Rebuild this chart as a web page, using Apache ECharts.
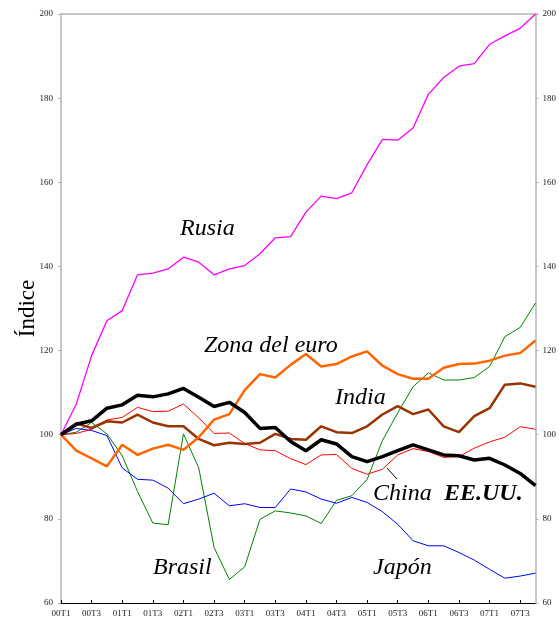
<!DOCTYPE html>
<html>
<head>
<meta charset="utf-8">
<script src="https://cdn.jsdelivr.net/npm/echarts@6/dist/echarts.min.js"></script>
<style>
  html, body { margin: 0; padding: 0; background: #fff; }
  #main { width: 559px; height: 619px; }
</style>
</head>
<body>
<div id="main"></div>
<script>
// trimestres 2000T1 - 2007T4
var quarters = [];
for (var y = 0; y <= 7; y++) {
    for (var q = 1; q <= 4; q++) {
        quarters.push('0' + y + 'T' + q);
    }
}

var rusia = [100, 107.3, 118.8, 127.1, 129.5, 138.0, 138.4, 139.4, 142.2, 141.0, 138.0, 139.4, 140.2, 143.0, 146.8, 147.1,
             152.9, 156.7, 156.1, 157.5, 164.2, 170.2, 170.0, 172.9, 180.9, 184.9, 187.6, 188.2, 192.8, 194.8, 196.6, 200.0];
var zonaEuro = [100, 96.2, 94.4, 92.5, 97.6, 95.2, 96.7, 97.6, 96.4, 99.4, 103.6, 104.9, 110.6, 114.4, 113.6, 116.6,
                119.2, 116.2, 116.8, 118.6, 119.8, 116.4, 114.4, 113.3, 113.3, 115.9, 116.8, 116.9, 117.6, 118.8, 119.4, 122.4];
var eeuu = [100, 102.5, 103.3, 106.3, 107.1, 109.4, 109.0, 109.7, 111.0, 108.9, 106.7, 107.7, 105.3, 101.5, 101.7, 98.4,
            96.2, 98.8, 97.8, 94.8, 93.6, 94.8, 96.2, 97.6, 96.4, 95.2, 95.0, 94.0, 94.4, 92.8, 90.8, 87.9];
var china = [100, 100.3, 101.3, 103.5, 104.1, 106.5, 105.5, 105.6, 107.3, 104.0, 100.3, 100.4, 97.9, 96.4, 96.2, 94.3,
             92.9, 95.2, 95.3, 92.0, 90.6, 91.8, 95.2, 96.7, 96.0, 94.6, 94.8, 96.8, 98.3, 99.4, 101.9, 101.3];
var india = [100, 102.7, 101.6, 103.2, 102.9, 104.8, 102.9, 102.0, 102.0, 99.0, 97.5, 98.1, 97.8, 98.1, 100.2, 99.0,
             98.8, 102.0, 100.6, 100.4, 102.0, 104.8, 106.8, 104.9, 106.0, 102.0, 100.6, 104.4, 106.3, 111.9, 112.2, 111.4];
var japon = [100, 101.5, 101.0, 99.8, 92.1, 89.4, 89.2, 87.3, 83.6, 84.7, 86.1, 83.1, 83.6, 82.7, 82.7, 87.1,
             86.4, 84.7, 83.7, 85.1, 83.9, 81.7, 78.7, 74.8, 73.6, 73.6, 72.0, 70.2, 68.0, 65.9, 66.4, 67.1];
var brasil = [100, 100.6, 102.9, 100.2, 95.0, 86.5, 79.0, 78.6, 100.2, 92.1, 73.2, 65.6, 68.6, 79.9, 81.9, 81.4,
              80.7, 78.9, 84.4, 85.5, 89.4, 98.6, 105.2, 111.4, 114.7, 113.0, 113.0, 113.6, 116.2, 123.3, 125.5, 131.3];

var yTicks = [60, 80, 100, 120, 140, 160, 180, 200];

var myChart = echarts.init(document.getElementById('main'));

var serif = 'Liberation Serif';

function linea(name, data, color, width) {
    return {
        name: name,
        type: 'line',
        data: data,
        symbol: 'none',
        lineStyle: { color: color, width: width },
        itemStyle: { color: color },
        animation: false
    };
}

function etiqueta(text, x, y, bold) {
    return {
        type: 'text',
        left: x,
        top: y,
        style: {
            text: text,
            fill: '#000',
            font: 'italic ' + (bold ? 'bold ' : '') + '24px "' + serif + '"'
        }
    };
}

var option = {
    animation: false,
    grid: { left: 61, right: 21, top: 14, bottom: 16, containLabel: false, show: false },
    xAxis: {
        type: 'category',
        data: quarters,
        boundaryGap: false,
        axisLine: { lineStyle: { color: '#000', width: 1 } },
        axisTick: { inside: true, length: 3, interval: 1, lineStyle: { color: '#000' } },
        axisLabel: { interval: 1, fontFamily: serif, fontSize: 9, color: '#222', margin: 6 },
        splitLine: { show: false }
    },
    yAxis: [{
        type: 'value',
        min: yTicks[0],
        max: yTicks[yTicks.length - 1],
        interval: 20,
        name: 'Índice',
        nameLocation: 'middle',
        nameGap: 22,
        nameMoveOverlap: false,
        nameTextStyle: { fontFamily: serif, fontSize: 23, color: '#000' },
        axisLine: { show: true, lineStyle: { color: '#b4b4b4', width: 1.5 } },
        axisTick: { show: true, length: 3, lineStyle: { color: '#b4b4b4' } },
        axisLabel: { fontFamily: serif, fontSize: 9, color: '#222', margin: 8 },
        splitLine: { show: false }
    }, {
        type: 'value',
        position: 'right',
        min: yTicks[0],
        max: yTicks[yTicks.length - 1],
        interval: 20,
        axisLine: { show: true, lineStyle: { color: '#b4b4b4', width: 1.5 } },
        axisTick: { show: true, length: 3, lineStyle: { color: '#b4b4b4' } },
        axisLabel: { fontFamily: serif, fontSize: 9, color: '#222', margin: 7 },
        splitLine: { show: false }
    }],
    series: [
        linea('Rusia', rusia, '#ff00ff', 1.3),
        linea('Brasil', brasil, '#008000', 1),
        linea('Japón', japon, '#0000ff', 1),
        linea('China', china, '#ff0000', 1),
        linea('India', india, '#993300', 2.5),
        linea('Zona del euro', zonaEuro, '#ff6600', 2.5),
        linea('EE.UU.', eeuu, '#000000', 3.5)
    ],
    graphic: [
        // borde superior del área del gráfico
        { type: 'line', shape: { x1: 61, y1: 14, x2: 538, y2: 14 }, style: { stroke: '#b4b4b4', lineWidth: 1.5 } },
        etiqueta('Rusia', 180, 217),
        etiqueta('Zona del euro', 204, 334),
        etiqueta('India', 335, 386),
        etiqueta('China', 373, 482),
        etiqueta('EE.UU.', 444, 482, true),
        etiqueta('Japón', 373, 556),
        etiqueta('Brasil', 153, 556),
        { type: 'line', shape: { x1: 387, y1: 468, x2: 397, y2: 479 }, style: { stroke: '#000', lineWidth: 1 } }
    ]
};

myChart.setOption(option);
</script>
</body>
</html>
